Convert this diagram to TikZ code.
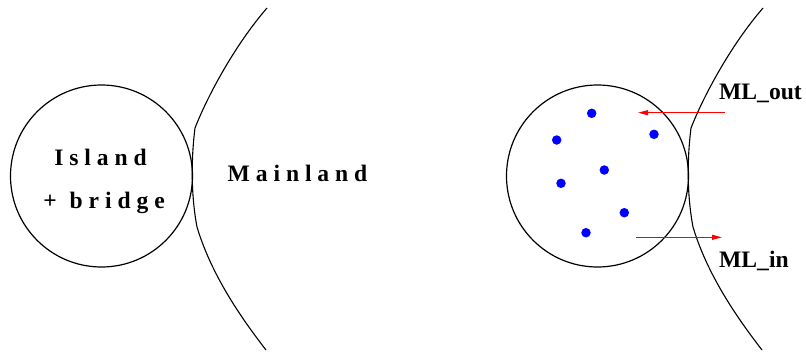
\documentclass[tikz,border=0pt]{standalone}
\usepackage{fontspec}
\setmainfont{Liberation Serif}
\usetikzlibrary{arrows.meta}
\begin{document}
\begin{tikzpicture}[x=1pt,y=-1pt,
  disk/.style={circle,draw,line width=1.2pt,minimum size=182pt,inner sep=0pt},
  shore/.style={line width=1.1pt},
  lbl/.style={font=\fontsize{23.6}{26}\selectfont\bfseries,inner sep=0pt},
  dot/.style={circle,fill=blue,minimum size=9.5pt,inner sep=0pt},
  flow/.style={red,line width=1.2pt,-{Triangle[length=10pt,width=5pt]}}]
\useasboundingbox (0,0) rectangle (806,354);
% left part
\node[disk] (island) at (101.5,176) {};
\draw[shore] (267,8) .. controls (235,45) and (208,95) .. (195,128)
  .. controls (191,160) and (191,195) .. (197,227)
  .. controls (210,270) and (235,310) .. (266,350);
\node[lbl,anchor=base] (t1) at (100.5,165) {I s l a n d};
\node[lbl,anchor=base] (t2) at (104,208) {+\hspace{0.55em}b r i d g e};
\node[lbl,anchor=base] (t3) at (297.5,181) {M a i n l a n d};
% right part
\node[disk] (isl2) at (597.5,176) {};
\draw[shore] (763,8) .. controls (731,45) and (704,95) .. (691,128)
  .. controls (687,160) and (687,195) .. (693,227)
  .. controls (706,270) and (731,310) .. (762,350);
\node[dot] (d1) at (591.7,113.3) {};
\node[dot] (d2) at (556.7,140) {};
\node[dot] (d3) at (654,134.3) {};
\node[dot] (d4) at (604.3,170) {};
\node[dot] (d5) at (561,183.3) {};
\node[dot] (d6) at (624.3,212.7) {};
\node[dot] (d7) at (586,232.7) {};
\coordinate (o1) at (724.5,112.7);
\coordinate (o2) at (638,112.7);
\coordinate (i1) at (636,237.3);
\coordinate (i2) at (722,237.3);
\draw[flow] (o1) -- (o2);
\draw[flow] (i1) -- (i2);
\node[lbl,anchor=base west] (mlo) at (719,99) {ML\_out};
\node[lbl,anchor=base west] (mli) at (719,267) {ML\_in};
\end{tikzpicture}
\end{document}
